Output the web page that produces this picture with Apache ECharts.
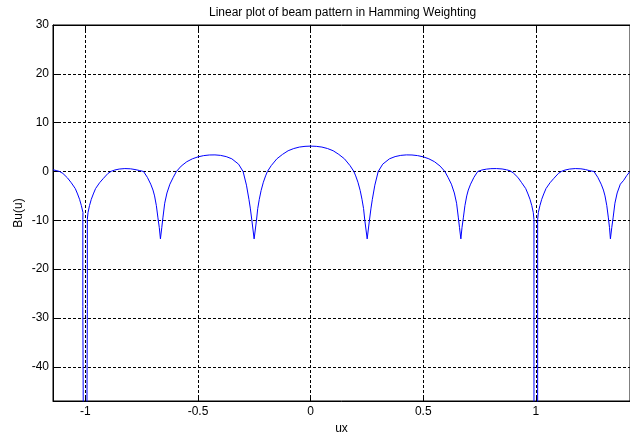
<!DOCTYPE html>
<html>
<head>
<meta charset="utf-8">
<script src="https://cdn.jsdelivr.net/npm/echarts@6/dist/echarts.min.js"></script>
<style>
html,body{margin:0;padding:0;background:#fff;}
#chart{width:630px;height:433px;}
</style>
</head>
<body>
<div id="chart"></div>
<script>
// ---- data ----
const titleText = "Linear plot of beam pattern in Hamming Weighting";
const xName = "ux";
const yName = "Bu(u)";
const xTicks = [-1, -0.5, 0, 0.5, 1];
const yTicks = [-40, -30, -20, -10, 0, 10, 20, 30];
const xMin = -1.144, xMax = 1.418;
const yMin = -47, yMax = 30;

const uVals = [
  -1.144, -1.13, -1.115, -1.1, -1.08, -1.063, -1.045, -1.035, -1.026, -1.018, -1.011, -1.0115, -1.001,
  -0.999, -0.9916, -0.9916, -0.9885, -0.982, -0.974, -0.965, -0.955, -0.937, -0.92, -0.9, -0.885, -0.87,
  -0.85, -0.825, -0.8, -0.78, -0.76, -0.742, -0.725, -0.71, -0.7, -0.693, -0.685, -0.678, -0.672, -0.667,
  -0.661, -0.656, -0.648, -0.638, -0.625, -0.61, -0.596, -0.575, -0.55, -0.525, -0.5, -0.475, -0.45,
  -0.425, -0.4, -0.375, -0.35, -0.32, -0.3, -0.285, -0.274, -0.268, -0.261, -0.251, -0.2405, -0.235,
  -0.228, -0.22, -0.21, -0.2, -0.192, -0.175, -0.15, -0.125, -0.1, -0.075, -0.05, -0.025, 0,
  0.025, 0.05, 0.075, 0.1, 0.125, 0.15, 0.175, 0.192, 0.2, 0.21, 0.22, 0.228, 0.235, 0.2405, 0.251,
  0.261, 0.268, 0.274, 0.285, 0.3, 0.32, 0.35, 0.375, 0.4, 0.425, 0.45, 0.475, 0.5, 0.525, 0.55, 0.575,
  0.596, 0.61, 0.625, 0.638, 0.648, 0.656, 0.661, 0.667, 0.672, 0.678, 0.685, 0.693, 0.7, 0.71, 0.725,
  0.742, 0.76, 0.78, 0.8, 0.825, 0.85, 0.87, 0.885, 0.9, 0.92, 0.937, 0.955, 0.965, 0.974, 0.982, 0.9885,
  0.9916, 0.9917, 1.0079, 1.008, 1.011, 1.018, 1.026, 1.035, 1.045, 1.063, 1.08, 1.1, 1.115, 1.13, 1.15,
  1.175, 1.2, 1.22, 1.24, 1.258, 1.275, 1.29, 1.3, 1.307, 1.315, 1.322, 1.327, 1.331, 1.337, 1.343,
  1.351, 1.361, 1.375, 1.39, 1.404, 1.418
];
const bVals = [
  0.35, 0.2, 0.0, -0.4, -1.3, -2.3, -3.5, -4.6, -5.7, -7.0, -8.4, -9.8, -150,
  -150, -27.7, -9.8, -8.4, -7.0, -5.7, -4.6, -3.5, -2.3, -1.4, -0.4, 0.05, 0.3,
  0.5, 0.6, 0.55, 0.4, 0.2, 0.0, -1.2, -2.6, -3.8, -5.0, -7.0, -9.5, -11.5, -13.8,
  -11.5, -9.5, -6.5, -4.4, -2.6, -1.2, 0.0, 1.1, 2.0, 2.6, 3.0, 3.25, 3.38,
  3.4, 3.3, 3.05, 2.6, 1.5, 0.0, -2.8, -5.7, -7.5, -10, -13.8, -10, -7.6,
  -5.7, -3.9, -2.2, -0.9, 0.0, 1.2, 2.6, 3.5, 4.25, 4.7, 5.0, 5.15, 5.2,
  5.15, 5.0, 4.7, 4.25, 3.5, 2.6, 1.2, 0.0, -0.9, -2.2, -3.9, -5.7, -7.6, -10, -13.8,
  -10, -7.5, -5.7, -2.8, 0.0, 1.5, 2.6, 3.05, 3.3, 3.4, 3.38, 3.25, 3.0, 2.6, 2.0, 1.1,
  0.0, -1.2, -2.6, -4.4, -6.5, -9.5, -11.5, -13.8, -11.5, -9.5, -7.0, -5.0, -3.8, -2.6, -1.2,
  0.0, 0.3, 0.48, 0.58, 0.6, 0.52, 0.35, 0.15, -0.3, -1.2, -2.3, -3.5, -4.6, -5.7, -7.0, -8.4,
  -9.8, -150, -150, -9.8, -8.4, -7.0, -5.7, -4.6, -3.5, -2.3, -1.4, -0.4, 0.05, 0.3, 0.5,
  0.6, 0.55, 0.4, 0.15, 0.0, -1.2, -2.6, -3.8, -5.0, -7.0, -9.5, -11.5, -13.8, -11.5, -9.5,
  -6.5, -4.4, -2.6, -1.8, -0.8, 0.0
];
// the left deep null has a short step at -27.7 on the outer branch
const stepU = -1.0115, stepB = -27.7;

const points = uVals.map((u, i) => [u, bVals[i]]);
points.splice(12, 0, [stepU, stepB]);

const chart = echarts.init(document.getElementById('chart'), null, {renderer: 'canvas'});
const gridDash = {color: '#000', width: 1, type: [3, 2]};
const fontFam = '"Liberation Sans", Arial, sans-serif';
chart.setOption({
  animation: false,
  backgroundColor: '#fff',
  title: {
    text: titleText, left: 204, top: 2,
    textStyle: {fontSize: 12, fontWeight: 'normal', color: '#000', fontFamily: fontFam}
  },
  grid: {left: 53, right: 0, top: 25, bottom: 32, show: true, borderColor: '#000', borderWidth: 1,
    backgroundColor: '#fff', containLabel: false, outerBoundsMode: 'none'},
  xAxis: [{
    type: 'value', min: xMin, max: xMax,
    name: xName, nameLocation: 'middle', nameGap: 20,
    nameTextStyle: {fontSize: 12, color: '#000', fontFamily: fontFam},
    axisLine: {show: true, onZero: false, lineStyle: {color: '#000', width: 1}},
    axisTick: {show: true, inside: true, length: 5, customValues: xTicks, lineStyle: {color: '#000'}},
    axisLabel: {customValues: xTicks, color: '#000', fontSize: 12, margin: 5, fontFamily: fontFam,
      formatter: v => String(v)},
    splitLine: {show: true, lineStyle: gridDash}
  }, {
    type: 'value', min: xMin, max: xMax, position: 'top',
    axisLine: {show: true, onZero: false, lineStyle: {color: '#000', width: 1}},
    axisTick: {show: true, inside: true, length: 5, customValues: xTicks, lineStyle: {color: '#000'}},
    axisLabel: {show: false},
    splitLine: {show: false}
  }],
  yAxis: {
    type: 'value', min: yMin, max: yMax,
    name: yName, nameLocation: 'middle', nameGap: 28, nameMoveOverlap: false,
    nameTextStyle: {fontSize: 12, color: '#000', fontFamily: fontFam},
    axisLine: {show: true, onZero: false, lineStyle: {color: '#000', width: 1}},
    axisTick: {show: true, inside: true, length: 5, customValues: yTicks, lineStyle: {color: '#000'}},
    axisLabel: {customValues: yTicks, color: '#000', fontSize: 12, margin: 4, fontFamily: fontFam,
      formatter: v => String(v)},
    splitLine: {show: true, lineStyle: gridDash}
  },
  series: [{
    type: 'line', data: points, showSymbol: false, clip: true, xAxisIndex: 0,
    lineStyle: {color: '#0000ff', width: 1}, itemStyle: {color: '#0000ff'}
  }]
});
</script>
</body>
</html>
